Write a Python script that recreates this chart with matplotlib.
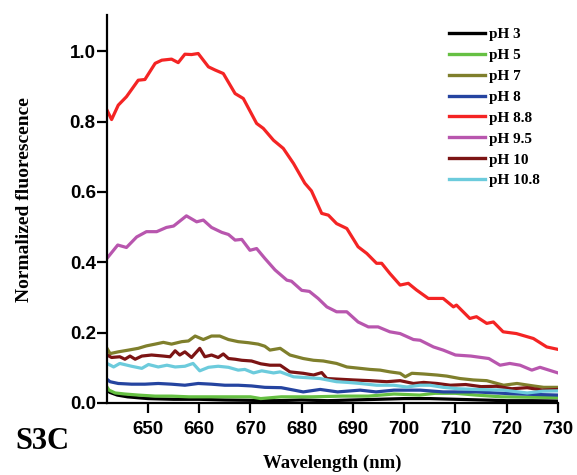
import matplotlib.pyplot as plt

# Emissionsspektren bei verschiedenen pH-Werten (normiert)
wl_ph3 = [642.0, 642.5, 644.0, 646.0, 650.0, 655.0, 660.0, 665.0, 670.0, 675.0, 680.0,
          685.0, 690.0, 695.0, 700.0, 705.0, 710.0, 715.0, 720.0, 725.0, 730.0]
ph3 = [0.040, 0.030, 0.022, 0.017, 0.012, 0.010, 0.010, 0.008, 0.007, 0.006, 0.008,
       0.006, 0.008, 0.010, 0.012, 0.012, 0.010, 0.008, 0.006, 0.006, 0.005]

wl_ph5 = [642.0, 642.4, 643.6, 645.5, 648.1, 651.4, 654.6, 658.0, 662.0, 666.0, 670.0, 672.0,
          676.0, 682.0, 688.0, 693.0, 698.0, 703.0, 706.0, 710.0, 714.0, 719.0, 724.0, 730.0]
ph5 = [0.045, 0.036, 0.028, 0.025, 0.022, 0.019, 0.019, 0.017, 0.017, 0.017, 0.017, 0.012,
       0.017, 0.017, 0.019, 0.019, 0.025, 0.022, 0.027, 0.027, 0.022, 0.017, 0.016, 0.015]

wl_ph7 = [642.0, 642.6, 644.2, 646.2, 648.1, 649.7, 651.4, 653.0, 654.6, 656.6, 657.9, 659.2,
          660.8, 662.4, 664.0, 665.7, 667.6, 669.6, 671.5, 672.8, 673.8, 675.8, 677.7, 680.3,
          682.3, 684.2, 686.8, 688.8, 691.4, 693.3, 695.3, 697.2, 699.2, 700.2, 701.5, 703.8,
          706.4, 708.3, 710.9, 713.5, 716.1, 719.4, 722.0, 725.2, 727.2, 730.0]
ph7 = [0.155, 0.140, 0.145, 0.150, 0.155, 0.162, 0.167, 0.172, 0.167, 0.174, 0.176, 0.190,
       0.180, 0.190, 0.190, 0.180, 0.174, 0.171, 0.167, 0.161, 0.150, 0.155, 0.136, 0.126,
       0.121, 0.119, 0.112, 0.102, 0.098, 0.095, 0.093, 0.088, 0.084, 0.074, 0.084, 0.082,
       0.079, 0.076, 0.069, 0.065, 0.063, 0.050, 0.055, 0.048, 0.044, 0.044]

wl_ph8 = [642.0, 642.6, 644.2, 646.8, 649.4, 652.0, 654.6, 657.2, 659.8, 662.4, 665.0, 667.6,
          670.2, 672.8, 676.0, 680.3, 683.6, 687.0, 691.4, 694.5, 698.0, 703.1, 707.6, 714.0,
          720.6, 725.0, 730.0]
ph8 = [0.067, 0.060, 0.055, 0.053, 0.053, 0.055, 0.053, 0.050, 0.055, 0.053, 0.050, 0.050,
       0.048, 0.044, 0.043, 0.031, 0.038, 0.031, 0.036, 0.031, 0.036, 0.036, 0.031, 0.031,
       0.026, 0.024, 0.022]

wl_ph88 = [642.0, 642.9, 644.2, 645.8, 648.1, 649.4, 651.4, 652.7, 654.6, 655.9, 657.2, 658.5,
           659.8, 661.8, 663.1, 664.7, 667.0, 668.6, 671.2, 672.5, 674.5, 676.4, 678.4, 680.6,
           681.9, 683.9, 685.2, 686.8, 688.8, 691.0, 692.7, 694.6, 695.6, 697.2, 699.2, 700.8,
           702.4, 704.7, 707.6, 709.6, 710.2, 712.8, 714.1, 716.1, 717.4, 719.3, 721.9, 725.2,
           727.8, 730.0]
ph88 = [0.833, 0.806, 0.847, 0.871, 0.918, 0.920, 0.966, 0.975, 0.978, 0.968, 0.992, 0.991,
        0.994, 0.956, 0.947, 0.937, 0.880, 0.866, 0.795, 0.781, 0.747, 0.724, 0.681, 0.625,
        0.603, 0.539, 0.534, 0.510, 0.496, 0.444, 0.425, 0.397, 0.397, 0.368, 0.335, 0.340,
        0.321, 0.297, 0.297, 0.273, 0.278, 0.240, 0.245, 0.226, 0.230, 0.202, 0.197, 0.183,
        0.159, 0.152]

wl_ph95 = [642.0, 644.1, 645.8, 647.8, 649.7, 651.7, 653.6, 655.0, 657.5, 659.5, 660.8, 662.4,
           664.4, 665.7, 667.0, 668.3, 669.9, 671.2, 672.8, 674.8, 677.1, 678.0, 680.0, 681.5,
           683.2, 684.9, 686.8, 688.8, 691.0, 693.0, 694.9, 697.2, 699.2, 701.8, 703.1, 705.7,
           707.6, 710.0, 713.0, 716.5, 718.7, 720.6, 722.6, 724.9, 726.5, 730.0]
ph95 = [0.411, 0.449, 0.442, 0.472, 0.487, 0.487, 0.499, 0.503, 0.532, 0.515, 0.520, 0.499,
        0.485, 0.479, 0.463, 0.465, 0.434, 0.439, 0.411, 0.378, 0.349, 0.346, 0.320, 0.317,
        0.297, 0.273, 0.259, 0.259, 0.230, 0.216, 0.216, 0.202, 0.197, 0.180, 0.178, 0.159,
        0.150, 0.136, 0.133, 0.126, 0.107, 0.112, 0.107, 0.093, 0.101, 0.085]

wl_ph10 = [642.0, 642.9, 644.5, 645.5, 646.5, 647.5, 648.8, 650.7, 653.0, 654.3, 655.3, 656.2,
           657.2, 658.5, 660.1, 661.1, 662.4, 663.7, 664.7, 665.7, 667.0, 668.3, 670.2, 672.0,
           673.8, 675.8, 677.7, 680.3, 682.3, 683.9, 684.9, 687.5, 690.1, 693.3, 696.6, 699.2,
           701.8, 703.8, 706.4, 709.0, 712.0, 715.0, 718.0, 721.0, 724.0, 727.0, 730.0]
ph10 = [0.136, 0.129, 0.131, 0.124, 0.133, 0.124, 0.133, 0.136, 0.133, 0.131, 0.148, 0.136,
        0.145, 0.129, 0.155, 0.131, 0.136, 0.129, 0.139, 0.126, 0.124, 0.121, 0.119, 0.111,
        0.107, 0.107, 0.088, 0.084, 0.079, 0.086, 0.069, 0.067, 0.065, 0.063, 0.060, 0.063,
        0.055, 0.058, 0.055, 0.050, 0.052, 0.046, 0.047, 0.040, 0.043, 0.036, 0.038]

wl_ph108 = [642.0, 643.3, 644.5, 646.8, 648.8, 650.1, 652.0, 653.7, 655.3, 657.2, 658.8, 660.1,
            661.8, 663.7, 665.7, 667.6, 668.9, 670.6, 672.2, 674.5, 675.8, 678.4, 680.5, 683.6,
            686.8, 689.0, 691.4, 694.6, 697.9, 700.5, 703.1, 705.0, 707.6, 710.5, 714.1, 719.4,
            724.0, 727.0, 730.0]
ph108 = [0.112, 0.102, 0.112, 0.104, 0.098, 0.109, 0.102, 0.107, 0.102, 0.104, 0.112, 0.091,
         0.101, 0.104, 0.101, 0.093, 0.095, 0.085, 0.091, 0.085, 0.088, 0.074, 0.072, 0.069,
         0.060, 0.058, 0.055, 0.050, 0.050, 0.045, 0.050, 0.050, 0.044, 0.040, 0.038, 0.036,
         0.028, 0.033, 0.034]

labels = ["pH 3", "pH 5", "pH 7", "pH 8", "pH 8.8", "pH 9.5", "pH 10", "pH 10.8"]
colors = ["#000000", "#66c043", "#7f7f2c", "#2544a0", "#f42424", "#b856ae", "#7c1414", "#6ccbdc"]
spektren = [(wl_ph3, ph3), (wl_ph5, ph5), (wl_ph7, ph7), (wl_ph8, ph8),
            (wl_ph88, ph88), (wl_ph95, ph95), (wl_ph10, ph10), (wl_ph108, ph108)]

serif = "Liberation Serif"
sans = "Liberation Sans"

fig = plt.figure(figsize=(5.77, 4.75), dpi=100)
ax = fig.add_axes([0.1854, 0.152, 0.7816, 0.816])

for (x, y), lab, col in zip(spektren, labels, colors):
    ax.plot(x, y, color=col, linewidth=2.3, label=lab, solid_joinstyle="round")

ax.set_xlim(642, 730)
ax.set_ylim(0, 1.103)
ax.set_xticks([650, 660, 670, 680, 690, 700, 710, 720, 730])
ax.set_yticks([0.0, 0.2, 0.4, 0.6, 0.8, 1.0])
ax.set_yticklabels(["0.0", "0.2", "0.4", "0.6", "0.8", "1.0"])

for s in ["top", "right"]:
    ax.spines[s].set_visible(False)
for s in ["left", "bottom"]:
    ax.spines[s].set_linewidth(1.6)

ax.tick_params(direction="out", length=7, width=1.6, labelsize=13.5)
ax.tick_params(axis="x", pad=6)
ax.tick_params(axis="y", pad=1)
for t in ax.get_xticklabels() + ax.get_yticklabels():
    t.set_fontfamily(sans)
    t.set_fontweight("bold")

ax.set_xlabel("Wavelength (nm)", fontfamily=serif, fontweight="bold", fontsize=13.5, labelpad=12)
ax.set_ylabel("Normalized fluorescence", fontfamily=serif, fontweight="bold", fontsize=14)
ax.yaxis.set_label_coords(-0.164, 0.525)

leg = ax.legend(loc="upper left", bbox_to_anchor=(441 / 577, 1 - 20 / 475), bbox_transform=fig.transFigure,
                frameon=False, handlelength=2.4, handletextpad=0.25, labelspacing=0.47, borderpad=0,
                prop={"family": serif, "weight": "bold", "size": 11})
for h in leg.get_lines():
    h.set_linewidth(2.4)

fig.text(15 / 577, 1 - 449 / 475, "S3C", fontfamily=serif, fontweight="bold", fontsize=22)

plt.savefig("out.png", dpi=100)
